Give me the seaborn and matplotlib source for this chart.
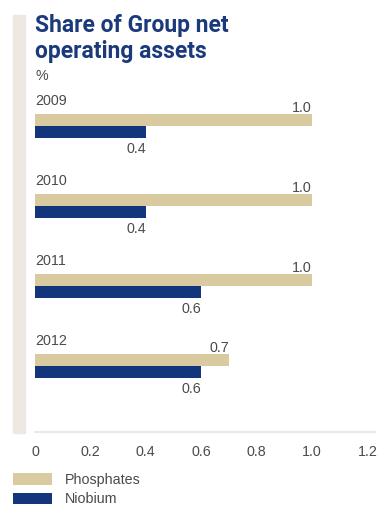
import matplotlib
matplotlib.use("Agg")
import matplotlib.pyplot as plt
import seaborn as sns
import pandas as pd
from matplotlib.patches import Rectangle

years = ["2009", "2010", "2011", "2012"]
phosphates = [1.0, 1.0, 1.0, 0.7]
niobium = [0.4, 0.4, 0.6, 0.6]
series_names = ["Phosphates", "Niobium"]
xticks = [0, 0.2, 0.4, 0.6, 0.8, 1.0, 1.2]
xtick_labels = ["0", "0.2", "0.4", "0.6", "0.8", "1.0", "1.2"]

PHOS = "#D9CA9F"
NIOB = "#12357B"
BEIGE = "#EDE8E1"
TXT = "#4a4a4a"
TITLE = "#1B3A7C"

sns.set_theme(style="white")
plt.rcParams["font.family"] = ["Liberation Sans", "DejaVu Sans"]

df = pd.DataFrame({
    "year": years * 2,
    "value": phosphates + niobium,
    "series": [series_names[0]] * 4 + [series_names[1]] * 4,
})

W, H = 377, 507
fig = plt.figure(figsize=(W / 100, H / 100), dpi=100)
ax = fig.add_axes([35 / W, 1 - 432 / H, 340 / W, (432 - 90) / H])

sns.barplot(data=df, y="year", x="value", hue="series", orient="h",
            palette=[PHOS, NIOB], width=0.3, saturation=1, linewidth=0,
            edgecolor="none", ax=ax)

ax.set_xlim(0, 340 / 277)
ax.set_ylim(3.825, -0.45)
ax.set_yticks([])
ax.set_ylabel("")
ax.set_xlabel("")
ax.set_xticks(xticks)
ax.set_xticklabels(xtick_labels)
ax.tick_params(axis="x", length=0, pad=9, labelsize=10.3, labelcolor=TXT)
for s in ["top", "right", "left"]:
    ax.spines[s].set_visible(False)
ax.spines["bottom"].set_color(BEIGE)
ax.spines["bottom"].set_linewidth(1.6)

for i, (y, p, n) in enumerate(zip(years, phosphates, niobium)):
    ax.text(0, i - 0.31, y, ha="left", va="center", fontsize=10.3, color=TXT)
    ax.annotate(f"{p:.1f}", (p, i - 0.15), xytext=(0, -1), textcoords="offset points",
                ha="right", va="bottom", fontsize=10.3, color=TXT)
    ax.annotate(f"{n:.1f}", (n, i + 0.15), xytext=(0, -3), textcoords="offset points",
                ha="right", va="top", fontsize=10.3, color=TXT)

handles, labels = ax.get_legend_handles_labels()
if ax.get_legend() is not None:
    ax.get_legend().remove()
fig.legend(handles, labels, loc="upper left", bbox_to_anchor=(13 / W, 1 - 473 / H),
           frameon=False, borderpad=0, borderaxespad=0, handlelength=2.7,
           handleheight=0.85, handletextpad=0.9, labelspacing=0.38,
           prop={"size": 10.3}, labelcolor=TXT)

fig.patches.append(Rectangle((13 / W, 1 - 433 / H), 12 / W, (433 - 15) / H,
                             transform=fig.transFigure, color=BEIGE, zorder=0))

tfont = dict(family=["Roboto", "DejaVu Sans"], weight="bold",
             size=16.5, color=TITLE)
fig.text(35 / W, 1 - 32 / H, "Share of Group net", ha="left", va="baseline", **tfont)
fig.text(35 / W, 1 - 58 / H, "operating assets", ha="left", va="baseline", **tfont)
fig.text(35 / W, 1 - 80 / H, "%", ha="left", va="baseline", fontsize=10.3, color=TXT)

fig.savefig("out.png", dpi=100, facecolor="white")
